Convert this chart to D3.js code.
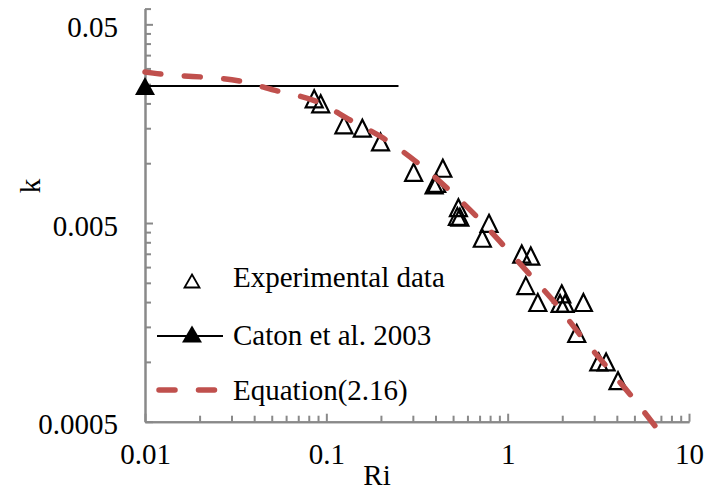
<!DOCTYPE html>
<html>
<head>
<meta charset="utf-8">
<script src="https://cdn.jsdelivr.net/npm/d3@7"></script>
<style>
    body { margin: 0; background: #fff; }
    svg { font-family: "Liberation Serif", "Times New Roman", serif; }
    .axis path, .axis line { stroke: #898989; stroke-width: 2; }
    .axis text { fill: #000; font-size: 29px; font-family: "Liberation Serif", "Times New Roman", serif; }
    .label { font-size: 29px; fill: #000; }
</style>
</head>
<body>
<svg width="706" height="494"></svg>
<script>
// experimental data (Ri, k)
const expRi = [0.0857, 0.0931, 0.125, 0.158, 0.199, 0.303, 0.439, 0.406, 0.393,
    0.535, 0.528, 0.545, 0.789, 0.725, 1.196, 1.341, 1.259, 1.466, 1.987, 1.945,
    2.074, 2.616, 2.404, 3.18, 3.49, 4.06];
const expK = [0.0211, 0.0199, 0.0156, 0.0150, 0.0128, 0.0090, 0.00943, 0.00792, 0.00777,
    0.00597, 0.00540, 0.00535, 0.00498, 0.00419, 0.00349, 0.00341, 0.00242, 0.00199, 0.00220, 0.00197,
    0.00197, 0.00199, 0.00139, 0.00100, 0.00100, 0.000804];

// Caton et al. 2003
const catonRi = [0.01, 0.25];
const catonK = [0.0245, 0.0245];

// Equation (2.16)
const eqRi = [0.01, 0.0111, 0.0334, 0.0508, 0.0923, 0.135, 0.205, 0.316, 0.463, 0.678,
    0.943, 1.33, 1.87, 2.57, 3.53, 4.86, 6.5];
const eqK = [0.0288, 0.0284, 0.0259, 0.0234, 0.0201, 0.0165, 0.0134, 0.0101, 0.0075, 0.00536,
    0.00388, 0.00274, 0.00193, 0.00133, 0.000942, 0.000666, 0.000476];

const xMajor = [0.01, 0.1, 1, 10];
const xLabels = ['0.01', '0.1', '1', '10'];
const yMajor = [0.0005, 0.005, 0.05];
const yLabels = ['0.0005', '0.005', '0.05'];
const legendNames = ['Experimental data', 'Caton et al. 2003', 'Equation(2.16)'];

let svg = d3.select('svg');
let x = d3.scaleLog().domain([0.01, 10]).range([145, 689]);
let y = d3.scaleLog().domain([0.0005, 0.06]).range([421.7, 8.6]);

function minors(majors, last) {
    let out = [];
    majors.forEach(m => {
        for (let i = 2; i <= 9; i++) {
            let v = m * i;
            if (v < last * 0.999) out.push(v);
        }
    });
    return out;
}
let xMinor = minors(xMajor, 10);
let yMinor = minors(yMajor, 0.06).concat([0.06]);

// y axis
svg.append('g').attr('class', 'axis')
    .attr('transform', `translate(${x(0.01)},0)`)
    .call(d3.axisLeft(y).tickValues(yMinor).tickSizeInner(-6).tickSizeOuter(0).tickFormat(''));
svg.append('g').attr('class', 'axis')
    .attr('transform', `translate(${x(0.01)},0)`)
    .call(d3.axisLeft(y).tickValues(yMajor).tickSizeInner(-8).tickSizeOuter(0).tickPadding(27)
        .tickFormat((d, i) => yLabels[i]))
    .call(g => g.selectAll('text').attr('dy', '0.42em'));

// x axis
svg.append('g').attr('class', 'axis')
    .attr('transform', `translate(0,${y(0.0005)})`)
    .call(d3.axisBottom(x).tickValues(xMinor).tickSizeInner(-6).tickSizeOuter(0).tickFormat(''));
svg.append('g').attr('class', 'axis')
    .attr('transform', `translate(0,${y(0.0005)})`)
    .call(d3.axisBottom(x).tickValues(xMajor).tickSizeInner(-8).tickSizeOuter(0).tickPadding(22)
        .tickFormat((d, i) => xLabels[i]));
svg.selectAll('.axis .domain').attr('stroke', '#898989').attr('stroke-width', 2);

// axis titles
svg.append('text').attr('class', 'label')
    .attr('text-anchor', 'middle')
    .attr('transform', 'translate(40,186) rotate(-90)')
    .text('k');
svg.append('text').attr('class', 'label')
    .attr('text-anchor', 'middle')
    .attr('x', 377).attr('y', 485)
    .text('Ri');

function triPath(w, h) {
    return `M0,${-h/2}L${w/2},${h/2}L${-w/2},${h/2}Z`;
}

// Caton line + marker
let caton = catonRi.map((d, i) => [d, catonK[i]]);
svg.append('path')
    .attr('d', d3.line().x(d => x(d[0])).y(d => y(d[1]))(caton))
    .attr('fill', 'none').attr('stroke', '#000').attr('stroke-width', 2);
svg.append('path')
    .attr('d', triPath(20, 18))
    .attr('transform', `translate(${x(catonRi[0])},${y(catonK[0])})`)
    .attr('fill', '#000');

// experimental triangles
svg.append('g').selectAll('path')
    .data(expRi.map((d, i) => [d, expK[i]]))
    .enter().append('path')
    .attr('d', triPath(17, 17))
    .attr('transform', d => `translate(${x(d[0])},${y(d[1])})`)
    .attr('fill', 'none').attr('stroke', '#000').attr('stroke-width', 2.2);

// equation curve
let eq = eqRi.map((d, i) => [d, eqK[i]]);
svg.append('path')
    .attr('d', d3.line().x(d => x(d[0])).y(d => y(d[1])).curve(d3.curveMonotoneX)(eq))
    .attr('fill', 'none').attr('stroke', '#C0504D').attr('stroke-width', 5.5)
    .attr('stroke-linecap', 'round').attr('stroke-dasharray', '16,23.5');

// legend
let leg = svg.append('g');
leg.append('path').attr('d', triPath(15, 13))
    .attr('transform', 'translate(192,281)')
    .attr('fill', 'none').attr('stroke', '#000').attr('stroke-width', 1.8);
leg.append('line').attr('x1', 157).attr('x2', 223).attr('y1', 336).attr('y2', 336)
    .attr('stroke', '#000').attr('stroke-width', 2);
leg.append('path').attr('d', triPath(20, 17))
    .attr('transform', 'translate(192,334)').attr('fill', '#000');
leg.append('line').attr('x1', 159).attr('x2', 216).attr('y1', 390).attr('y2', 390)
    .attr('stroke', '#C0504D').attr('stroke-width', 5.5)
    .attr('stroke-linecap', 'round').attr('stroke-dasharray', '16,23.5');
leg.selectAll('text').data(legendNames).enter().append('text')
    .attr('class', 'label')
    .attr('x', 233)
    .attr('y', (d, i) => [287, 345, 400][i])
    .text(d => d);
</script>
</body>
</html>
